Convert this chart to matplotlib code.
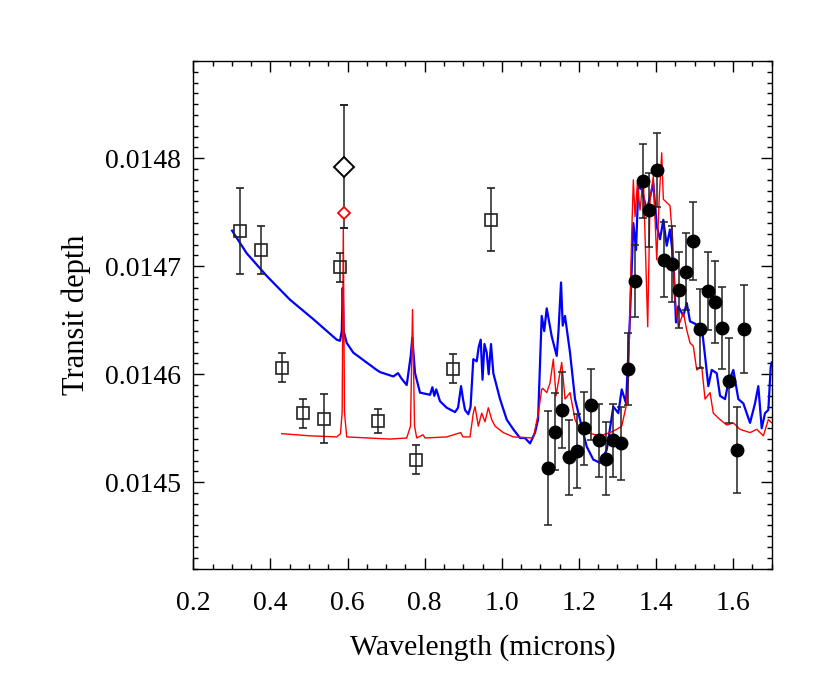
import matplotlib
matplotlib.use('Agg')
import matplotlib.pyplot as plt
from matplotlib.ticker import MultipleLocator, FormatStrFormatter

plt.rcParams['font.family'] = ['Liberation Serif', 'DejaVu Serif']
plt.rcParams['mathtext.fontset'] = 'stix'

# ground-based / STIS points (open squares)
sq_wave = [0.320, 0.375, 0.431, 0.485, 0.540, 0.581, 0.678, 0.777, 0.8735, 0.971]
sq_depth = [0.014733, 0.014715, 0.014606, 0.014564, 0.014559,
            0.014699, 0.014557, 0.014521, 0.014605, 0.014743]
sq_err = [0.0000398, 0.0000222, 0.0000134, 0.0000133, 0.0000224,
          0.0000133, 0.0000110, 0.0000133, 0.0000134, 0.0000290]

# sodium point (black diamond) and binned model (red diamond)
na_wave = 0.590
na_depth = 0.014792
na_err = 0.000057
na_model = 0.014749

# WFC3 points (filled circles)
wfc_wave = [1.1199, 1.1388, 1.1570, 1.1751, 1.1951, 1.2140, 1.2322, 1.2513,
            1.2703, 1.2892, 1.3084, 1.3266, 1.3455, 1.3655, 1.3826, 1.4018,
            1.4207, 1.4407, 1.4588, 1.4778, 1.4959, 1.5148, 1.5348, 1.5537,
            1.5719, 1.5900, 1.6100, 1.6289]
wfc_depth = [0.014513, 0.014547, 0.014567, 0.014523, 0.014529, 0.014550,
             0.014572, 0.014539, 0.014522, 0.014539, 0.014536, 0.014605,
             0.014686, 0.014779, 0.014752, 0.014789, 0.014706, 0.014702,
             0.014678, 0.014695, 0.014723, 0.014642, 0.014677, 0.014667,
             0.014643, 0.014594, 0.014530, 0.014642]
wfc_err = [0.0000530, 0.0000352, 0.0000352, 0.0000347, 0.0000343, 0.0000336,
           0.0000333, 0.0000338, 0.0000338, 0.0000338, 0.0000336, 0.0000333,
           0.0000333, 0.0000340, 0.0000343, 0.0000340, 0.0000347, 0.0000350,
           0.0000352, 0.0000358, 0.0000361, 0.0000366, 0.0000361, 0.0000380,
           0.0000380, 0.0000394, 0.0000398, 0.0000407]

# model spectrum, blue
blue_wave = [0.3004, 0.3385, 0.3904, 0.4508, 0.5112, 0.5719, 0.5805, 0.5850,
             0.5874, 0.5900, 0.5978, 0.6149, 0.6756, 0.6843, 0.7187, 0.7309,
             0.7400, 0.7534, 0.7638, 0.7679, 0.7750, 0.7879, 0.8139, 0.8200,
             0.8250, 0.8300, 0.8398, 0.8572, 0.8787, 0.8865, 0.8943, 0.8994,
             0.9046, 0.9132, 0.9190, 0.9261, 0.9350, 0.9400, 0.9453, 0.9500,
             0.9550, 0.9609, 0.9660, 0.9720, 0.9780, 0.9954, 1.0128, 1.0299,
             1.0473, 1.0600, 1.0733, 1.0862, 1.0940, 1.1035, 1.1100, 1.1165,
             1.1295, 1.1424, 1.1470, 1.1536, 1.1580, 1.1639, 1.1769, 1.1899,
             1.2028, 1.2202, 1.2373, 1.2547, 1.2721, 1.2892, 1.3022, 1.3110,
             1.3222, 1.3325, 1.3411, 1.3481, 1.3540, 1.3629, 1.3758, 1.3870,
             1.3929, 1.4018, 1.4103, 1.4189, 1.4277, 1.4362, 1.4448, 1.4518,
             1.4578, 1.4707, 1.4796, 1.4881, 1.5055, 1.5185, 1.5270, 1.5356,
             1.5444, 1.5574, 1.5659, 1.5789, 1.5874, 1.6004, 1.6134, 1.6264,
             1.6437, 1.6566, 1.6652, 1.6740, 1.6826, 1.6912, 1.6974, 1.7000]
blue_depth = [0.014733, 0.014712, 0.014691, 0.014669, 0.014651, 0.014632,
              0.014631, 0.014640, 0.014680, 0.014640, 0.014629, 0.014620,
              0.014604, 0.014602, 0.014598, 0.014601, 0.014596, 0.014590,
              0.014617, 0.014634, 0.014601, 0.014583, 0.014581, 0.014588,
              0.014580, 0.014586, 0.014575, 0.014569, 0.014565, 0.014569,
              0.014589, 0.014577, 0.014567, 0.014563, 0.014570, 0.014614,
              0.014612, 0.014625, 0.014632, 0.014595, 0.014628, 0.014620,
              0.014600, 0.014628, 0.014601, 0.014577, 0.014558, 0.014549,
              0.014541, 0.014541, 0.014536, 0.014546, 0.014558, 0.014654,
              0.014640, 0.014661, 0.014635, 0.014617, 0.014640, 0.014685,
              0.014645, 0.014654, 0.014620, 0.014577, 0.014558, 0.014533,
              0.014521, 0.014518, 0.014530, 0.014570, 0.014564, 0.014586,
              0.014573, 0.014654, 0.014740, 0.014715, 0.014774, 0.014771,
              0.014752, 0.014768, 0.014777, 0.014737, 0.014725, 0.014743,
              0.014719, 0.014734, 0.014706, 0.014648, 0.014663, 0.014654,
              0.014666, 0.014649, 0.014646, 0.014644, 0.014617, 0.014589,
              0.014604, 0.014601, 0.014580, 0.014577, 0.014592, 0.014604,
              0.014577, 0.014573, 0.014555, 0.014573, 0.014589, 0.014550,
              0.014564, 0.014567, 0.014607, 0.014611]

# model spectrum, red
red_wave = [0.4293, 0.5026, 0.5719, 0.5817, 0.5860, 0.5890, 0.5920, 0.5978,
            0.7101, 0.7534, 0.7633, 0.7685, 0.7737, 0.7794, 0.7957, 0.8010,
            0.8572, 0.8935, 0.8994, 0.9176, 0.9261, 0.9305, 0.9391, 0.9479,
            0.9565, 0.9650, 0.9739, 0.9824, 1.0039, 1.0299, 1.0817, 1.0947,
            1.1035, 1.1061, 1.1165, 1.1251, 1.1336, 1.1406, 1.1554, 1.1640,
            1.1769, 1.1899, 1.2028, 1.2202, 1.2547, 1.2807, 1.2980, 1.3110,
            1.3222, 1.3281, 1.3369, 1.3411, 1.3455, 1.3515, 1.3585, 1.3670,
            1.3784, 1.3844, 1.3929, 1.4018, 1.4085, 1.4147, 1.4189, 1.4277,
            1.4362, 1.4432, 1.4492, 1.4578, 1.4707, 1.4796, 1.4881, 1.4967,
            1.5055, 1.5185, 1.5270, 1.5400, 1.5485, 1.5659, 1.5833, 1.6004,
            1.6178, 1.6437, 1.6611, 1.6782, 1.6912, 1.7000]
red_depth = [0.014545, 0.014543, 0.014542, 0.014545, 0.014565, 0.014736,
             0.014565, 0.014542, 0.014540, 0.014541, 0.014552, 0.014660,
             0.014552, 0.014541, 0.014544, 0.014541, 0.014542, 0.014546,
             0.014542, 0.014542, 0.014564, 0.014570, 0.014552, 0.014564,
             0.014556, 0.014569, 0.014558, 0.014552, 0.014546, 0.014542,
             0.014541, 0.014564, 0.014586, 0.014587, 0.014583, 0.014592,
             0.014614, 0.014580, 0.014611, 0.014577, 0.014583, 0.014558,
             0.014549, 0.014546, 0.014543, 0.014546, 0.014549, 0.014552,
             0.014570, 0.014592, 0.014731, 0.014780, 0.014746, 0.014777,
             0.014752, 0.014783, 0.014644, 0.014762, 0.014783, 0.014706,
             0.014765, 0.014805, 0.014762, 0.014759, 0.014756, 0.014725,
             0.014669, 0.014644, 0.014657, 0.014641, 0.014629, 0.014626,
             0.014604, 0.014607, 0.014577, 0.014583, 0.014564, 0.014558,
             0.014553, 0.014555, 0.014549, 0.014546, 0.014549, 0.014543,
             0.014558, 0.014555]

fig = plt.figure(figsize=(8.3, 6.92), dpi=100)
ax = fig.add_axes([0.2329, 0.1782, 0.6969, 0.7336])

ax.plot(blue_wave, blue_depth, color='blue', lw=1.6, zorder=2)
ax.plot(red_wave, red_depth, color='red', lw=1.0, zorder=2)

ax.errorbar(sq_wave, sq_depth, yerr=sq_err, fmt='s', ms=8.8, mfc='none',
            mec='#222222', mew=1.2, ecolor='#222222', elinewidth=1.1,
            capsize=3, capthick=1.1, zorder=3)
ax.errorbar(wfc_wave, wfc_depth, yerr=wfc_err, fmt='o', ms=9, color='black',
            ecolor='#222222', elinewidth=1.1, capsize=3, capthick=1.1, zorder=3)
ax.errorbar([na_wave], [na_depth], yerr=[na_err], fmt='D', ms=9.8, mfc='white',
            mec='black', mew=1.4, ecolor='#222222', elinewidth=1.1,
            capsize=3, capthick=1.1, zorder=4)
ax.plot([na_wave], [na_model], 'D', ms=6.2, mfc='white', mec='red', mew=1.3,
        zorder=5)

ax.set_xlim(0.2, 1.7)
ax.set_ylim(0.01442, 0.01489)
ax.xaxis.set_major_locator(MultipleLocator(0.2))
ax.xaxis.set_minor_locator(MultipleLocator(0.05))
ax.yaxis.set_major_locator(MultipleLocator(0.0001))
ax.yaxis.set_minor_locator(MultipleLocator(0.00001))
ax.xaxis.set_major_formatter(FormatStrFormatter('%.1f'))
ax.yaxis.set_major_formatter(FormatStrFormatter('%.4f'))
ax.tick_params(which='both', direction='in', top=True, right=True,
               labelsize=20, width=1)
ax.tick_params(which='major', length=7.8)
ax.tick_params(which='minor', length=3.9)
ax.tick_params(axis='x', pad=16)
ax.tick_params(axis='y', pad=9)
ax.yaxis.get_offset_text().set_visible(False)
for s in ax.spines.values():
    s.set_linewidth(1)

ax.set_xlabel('Wavelength (microns)', fontsize=21.5, labelpad=13)
ax.set_ylabel('Transit depth', fontsize=22, labelpad=10)

fig.savefig('out.png', dpi=100)
